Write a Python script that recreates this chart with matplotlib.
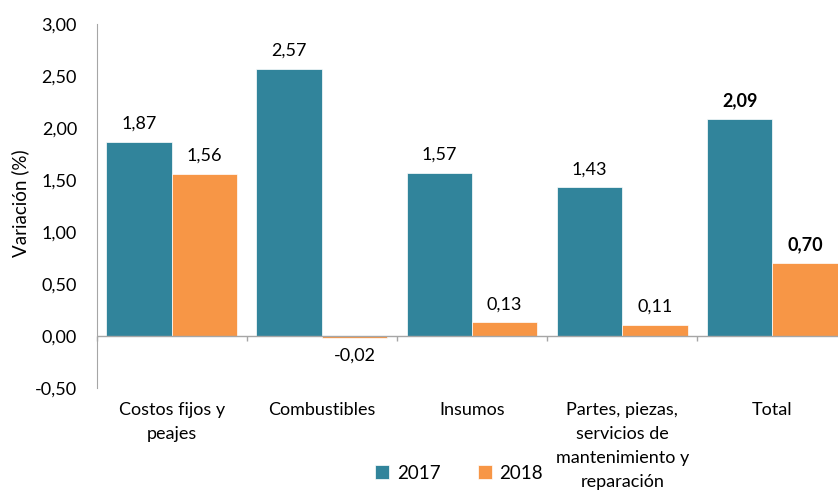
import matplotlib
matplotlib.use("Agg")
import matplotlib.pyplot as plt
import numpy as np

categories = ["Costos fijos y\npeajes", "Combustibles", "Insumos",
              "Partes, piezas,\nservicios de\nmantenimiento y\nreparación", "Total"]
v2017 = [1.87, 2.57, 1.57, 1.43, 2.09]
v2018 = [1.56, -0.02, 0.13, 0.11, 0.70]
yticks = [-0.5, 0.0, 0.5, 1.0, 1.5, 2.0, 2.5, 3.0]

plt.rcParams['font.family'] = ['Lato', 'DejaVu Sans']
W, H = 838, 494
fig = plt.figure(figsize=(W/100, H/100), dpi=100)
left, right, top, bottom = 96.5, 847.5, 24, 388
ax = fig.add_axes([left/W, 1-bottom/H, (right-left)/W, (bottom-top)/H])

c17, c18 = "#31849B", "#F79646"
x = np.arange(len(categories))
bw = 0.435
ax.bar(x - bw/2, v2017, bw, color=c17, edgecolor="white", linewidth=0.5, label="2017", zorder=2)
ax.bar(x + bw/2, v2018, bw, color=c18, edgecolor="white", linewidth=0.5, label="2018", zorder=2)

def fmt(v):
    return f"{v:.2f}".replace(".", ",")

n = len(categories)
for i, (a, b) in enumerate(zip(v2017, v2018)):
    bold = "bold" if i == n-1 else "normal"
    for xv, v in ((x[i]-bw/2, a), (x[i]+bw/2, b)):
        if v >= 0:
            ax.annotate(fmt(v), (xv, v), xytext=(0, 7), textcoords="offset points",
                        ha="center", va="bottom", fontsize=13, fontweight=bold)
        else:
            ax.annotate(fmt(v), (xv, v), xytext=(0, -7), textcoords="offset points",
                        ha="center", va="top", fontsize=13, fontweight=bold)

ax.set_xlim(-0.5, n-0.5)
ax.set_ylim(-0.5, 3.0)
ax.set_yticks(yticks)
ax.set_yticklabels([fmt(t) for t in yticks], fontsize=13)
fig.text(20/W, 1-203/H, "Variación (%)", rotation=90, ha="center", va="center", fontsize=13.5)

ax.set_xticks(x)
ax.set_xticklabels(categories, fontsize=13, va="top", linespacing=1.62)
ax.tick_params(axis="x", length=0, pad=10)
ax.tick_params(axis="y", length=0, pad=14)

for s in ("top", "right", "bottom"):
    ax.spines[s].set_visible(False)
ax.spines["left"].set_color("#A6A6A6")
ax.axhline(0, color="#A6A6A6", linewidth=1, zorder=3)
tick_len = 0.05
ax.vlines(np.arange(n+1) - 0.5, -tick_len, 0, color="#A6A6A6", linewidth=1, clip_on=False)

fig.legend(loc="center", bbox_to_anchor=(459/W, 1-473/H), ncol=2, frameon=False,
           fontsize=13.5, handlelength=0.75, handleheight=0.75, columnspacing=2.0,
           handletextpad=0.4)

fig.savefig("out.png", dpi=100)
